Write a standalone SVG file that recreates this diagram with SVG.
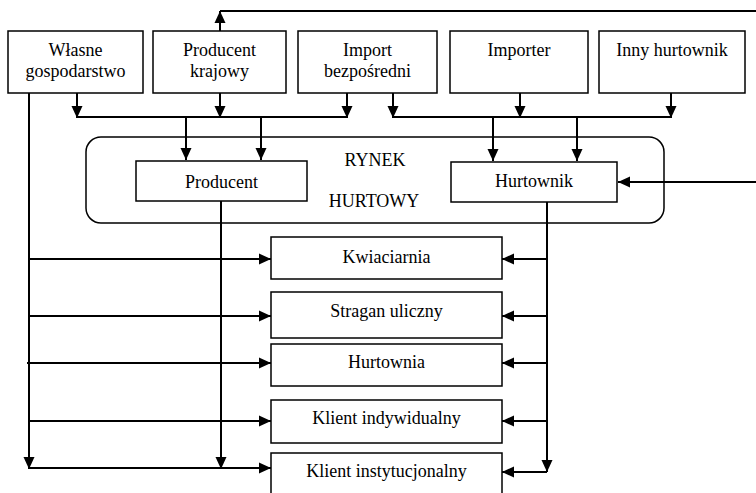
<svg xmlns="http://www.w3.org/2000/svg" width="756" height="493" viewBox="0 0 756 493">
<style>
.box{fill:#fff;stroke:#000;stroke-width:1.5}
.frame{fill:none;stroke:#000;stroke-width:1.5}
.t{font-family:"Liberation Serif","DejaVu Serif",serif;font-size:18px;fill:#000;text-anchor:middle}
.c{fill:none;stroke:#000;stroke-width:2}
</style>
<defs>
<marker id="ah" markerUnits="userSpaceOnUse" markerWidth="13" markerHeight="13" viewBox="0 0 13 13" refX="12" refY="6.5" orient="auto">
<path d="M0,1 L12,6.5 L0,12 Z" fill="#000"/>
</marker>
</defs>
<rect width="756" height="493" fill="#fff"/>
<g id="rynek">
<rect class="frame" x="86" y="137" width="578" height="86" rx="15"/>
<text class="t" x="375" y="166">RYNEK</text>
<text class="t" x="374" y="207">HURTOWY</text>
</g>

<g id="connectors">
<path class="c" d="M220,11 H756"/>
<path class="c" d="M220,31 V11" marker-end="url(#ah)"/>
<path class="c" d="M77,93 V118" marker-end="url(#ah)"/>
<path class="c" d="M220,93 V118" marker-end="url(#ah)"/>
<path class="c" d="M347,93 V118" marker-end="url(#ah)"/>
<path class="c" d="M77,117 H347"/>
<path class="c" d="M186,117 V160" marker-end="url(#ah)"/>
<path class="c" d="M261,117 V160" marker-end="url(#ah)"/>
<path class="c" d="M393,93 V118" marker-end="url(#ah)"/>
<path class="c" d="M520,93 V118" marker-end="url(#ah)"/>
<path class="c" d="M671,93 V118" marker-end="url(#ah)"/>
<path class="c" d="M393,117 H671"/>
<path class="c" d="M493,117 V161" marker-end="url(#ah)"/>
<path class="c" d="M577,117 V161" marker-end="url(#ah)"/>
<path class="c" d="M756,182 H618" marker-end="url(#ah)"/>
<path class="c" d="M29,93 V469" marker-end="url(#ah)"/>
<path class="c" d="M221,201 V469" marker-end="url(#ah)"/>
<path class="c" d="M29,259 H271" marker-end="url(#ah)"/>
<path class="c" d="M29,316 H271" marker-end="url(#ah)"/>
<path class="c" d="M27,363 H271" marker-end="url(#ah)"/>
<path class="c" d="M29,421 H271" marker-end="url(#ah)"/>
<path class="c" d="M29,468 H271" marker-end="url(#ah)"/>
<path class="c" d="M547,202 V472" marker-end="url(#ah)"/>
<path class="c" d="M547,259 H502" marker-end="url(#ah)"/>
<path class="c" d="M547,316 H502" marker-end="url(#ah)"/>
<path class="c" d="M547,363 H502" marker-end="url(#ah)"/>
<path class="c" d="M547,421 H502" marker-end="url(#ah)"/>
<path class="c" d="M547,472 H502" marker-end="url(#ah)"/>
</g>

<g id="wlasne">
<rect class="box" x="8" y="31" width="135" height="62"/>
<text class="t" x="75.5" y="56">Własne</text>
<text class="t" x="75.5" y="77">gospodarstwo</text>
</g>
<g id="producent-krajowy">
<rect class="box" x="153" y="31" width="133" height="62"/>
<text class="t" x="219.5" y="56">Producent</text>
<text class="t" x="219.5" y="77">krajowy</text>
</g>
<g id="import">
<rect class="box" x="298" y="31" width="139" height="62"/>
<text class="t" x="367.5" y="56">Import</text>
<text class="t" x="367.5" y="77">bezpośredni</text>
</g>
<g id="importer">
<rect class="box" x="450" y="31" width="138" height="62"/>
<text class="t" x="519" y="56">Importer</text>
</g>
<g id="inny-hurtownik">
<rect class="box" x="599" y="31" width="146" height="62"/>
<text class="t" x="672" y="56">Inny hurtownik</text>
</g>

<g id="producent">
<rect class="box" x="136" y="161" width="171" height="40"/>
<text class="t" x="221.5" y="188">Producent</text>
</g>
<g id="hurtownik">
<rect class="box" x="451" y="162" width="166" height="40"/>
<text class="t" x="534" y="187">Hurtownik</text>
</g>

<g id="kwiaciarnia">
<rect class="box" x="271" y="237" width="231" height="42"/>
<text class="t" x="386.5" y="263">Kwiaciarnia</text>
</g>
<g id="stragan">
<rect class="box" x="271" y="292" width="231" height="46"/>
<text class="t" x="386.5" y="317">Stragan uliczny</text>
</g>
<g id="hurtownia">
<rect class="box" x="271" y="344" width="231" height="42"/>
<text class="t" x="386.5" y="368">Hurtownia</text>
</g>
<g id="klient-ind">
<rect class="box" x="271" y="400" width="231" height="43"/>
<text class="t" x="386.5" y="424">Klient indywidualny</text>
</g>
<g id="klient-inst">
<rect class="box" x="271" y="453" width="231" height="46"/>
<text class="t" x="386.5" y="477">Klient instytucjonalny</text>
</g>
</svg>
